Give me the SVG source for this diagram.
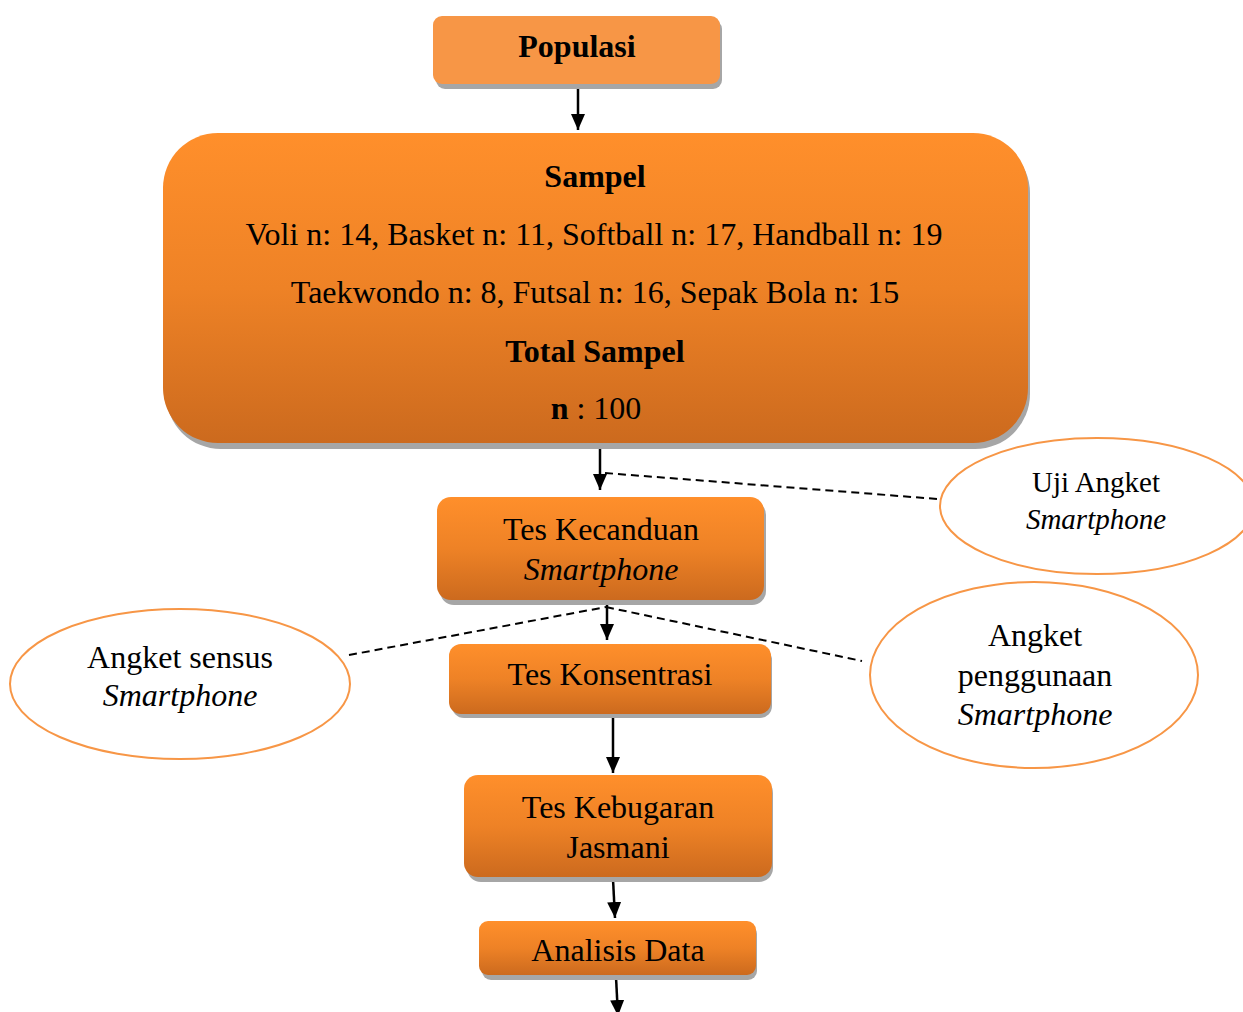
<svg xmlns="http://www.w3.org/2000/svg" width="1243" height="1012" viewBox="0 0 1243 1012">
<defs>
<linearGradient id="og" x1="0" y1="0" x2="0" y2="1">
<stop offset="0" stop-color="#FF8F2B"/>
<stop offset="0.5" stop-color="#EE8226"/>
<stop offset="1" stop-color="#CC6A1E"/>
</linearGradient>
<marker id="ah2" viewBox="0 0 16 14" refX="16" refY="7" markerWidth="16" markerHeight="14" markerUnits="userSpaceOnUse" orient="auto">
<path d="M0,0 L16,7 L0,14 z" fill="#000"/>
</marker>
</defs>
<style>
.sh{fill:#A6A6A6}
.box{fill:url(#og)}
.t{font-family:"Liberation Serif","Times New Roman",serif;font-size:32px;fill:#000;text-anchor:middle}
.te{font-family:"Liberation Serif","Times New Roman",serif;font-size:32px;fill:#000;text-anchor:middle}
.small{font-size:29px}
.b{font-weight:bold}
.i{font-style:italic}
.ell{fill:#fff;stroke:#F79646;stroke-width:2}
.c{stroke:#000;stroke-width:2.5;fill:none}
.d{stroke:#000;stroke-width:2;fill:none;stroke-dasharray:8,5}
</style>
<rect width="1243" height="1012" fill="#fff"/>
<g id="connectors">
<line class="c" x1="578" y1="87" x2="578" y2="130" marker-end="url(#ah2)"/>
<line class="c" x1="600" y1="446" x2="600" y2="490" marker-end="url(#ah2)"/>
<line class="d" x1="605" y1="473" x2="938" y2="499"/>
<line class="c" x1="607" y1="604" x2="607" y2="640" marker-end="url(#ah2)"/>
<line class="d" x1="349" y1="655" x2="606" y2="607"/>
<line class="d" x1="606" y1="607" x2="862" y2="661"/>
<line class="c" x1="613" y1="716" x2="613" y2="773" marker-end="url(#ah2)"/>
<line class="c" x1="613" y1="879" x2="615" y2="918" marker-end="url(#ah2)"/>
<line class="c" x1="616" y1="977" x2="618" y2="1016" marker-end="url(#ah2)"/>
</g>
<g id="populasi">
<rect class="sh" x="436" y="20" width="286" height="69" rx="9"/>
<rect x="433" y="16" width="287" height="68" rx="9" fill="#F79646"/>
<text class="t b" x="577" y="57">Populasi</text>
</g>
<g id="sampel">
<rect class="sh" x="166" y="138" width="864" height="311" rx="55"/>
<rect class="box" x="163" y="133" width="865" height="310" rx="55"/>
<text class="t b" x="595" y="187">Sampel</text>
<text class="t" x="594" y="245">Voli n: 14, Basket n: 11, Softball n: 17, Handball n: 19</text>
<text class="t" x="595" y="303">Taekwondo n: 8, Futsal n: 16, Sepak Bola n: 15</text>
<text class="t b" x="595" y="362">Total Sampel</text>
<text class="t" x="596" y="419"><tspan class="b">n</tspan> : 100</text>
</g>
<g id="tes-kecanduan">
<rect class="sh" x="440" y="501" width="326" height="104" rx="14"/>
<rect class="box" x="437" y="497" width="327" height="103" rx="14"/>
<text class="t" x="601" y="540">Tes Kecanduan</text>
<text class="t i" x="601" y="580">Smartphone</text>
</g>
<g id="tes-konsentrasi">
<rect class="sh" x="452" y="648" width="320" height="70" rx="12"/>
<rect class="box" x="449" y="644" width="322" height="70" rx="12"/>
<text class="t" x="610" y="685">Tes Konsentrasi</text>
</g>
<g id="tes-kebugaran">
<rect class="sh" x="467" y="779" width="306" height="103" rx="14"/>
<rect class="box" x="464" y="775" width="308" height="102" rx="14"/>
<text class="t" x="618" y="818">Tes Kebugaran</text>
<text class="t" x="618" y="858">Jasmani</text>
</g>
<g id="analisis-data">
<rect class="sh" x="482" y="925" width="275" height="55" rx="9"/>
<rect class="box" x="479" y="921" width="277" height="54" rx="9"/>
<text class="t" x="618" y="961">Analisis Data</text>
</g>
<g id="uji-angket">
<ellipse class="ell" cx="1097" cy="506" rx="157" ry="68"/>
<text class="te small" x="1096" y="492">Uji Angket</text>
<text class="te small i" x="1096" y="529">Smartphone</text>
</g>
<g id="angket-sensus">
<ellipse class="ell" cx="180" cy="684" rx="170" ry="75"/>
<text class="te" x="180" y="668">Angket sensus</text>
<text class="te i" x="180" y="706">Smartphone</text>
</g>
<g id="angket-penggunaan">
<ellipse class="ell" cx="1034" cy="675" rx="164" ry="93"/>
<text class="te" x="1035" y="646">Angket</text>
<text class="te" x="1035" y="686">penggunaan</text>
<text class="te i" x="1035" y="725">Smartphone</text>
</g>
</svg>
